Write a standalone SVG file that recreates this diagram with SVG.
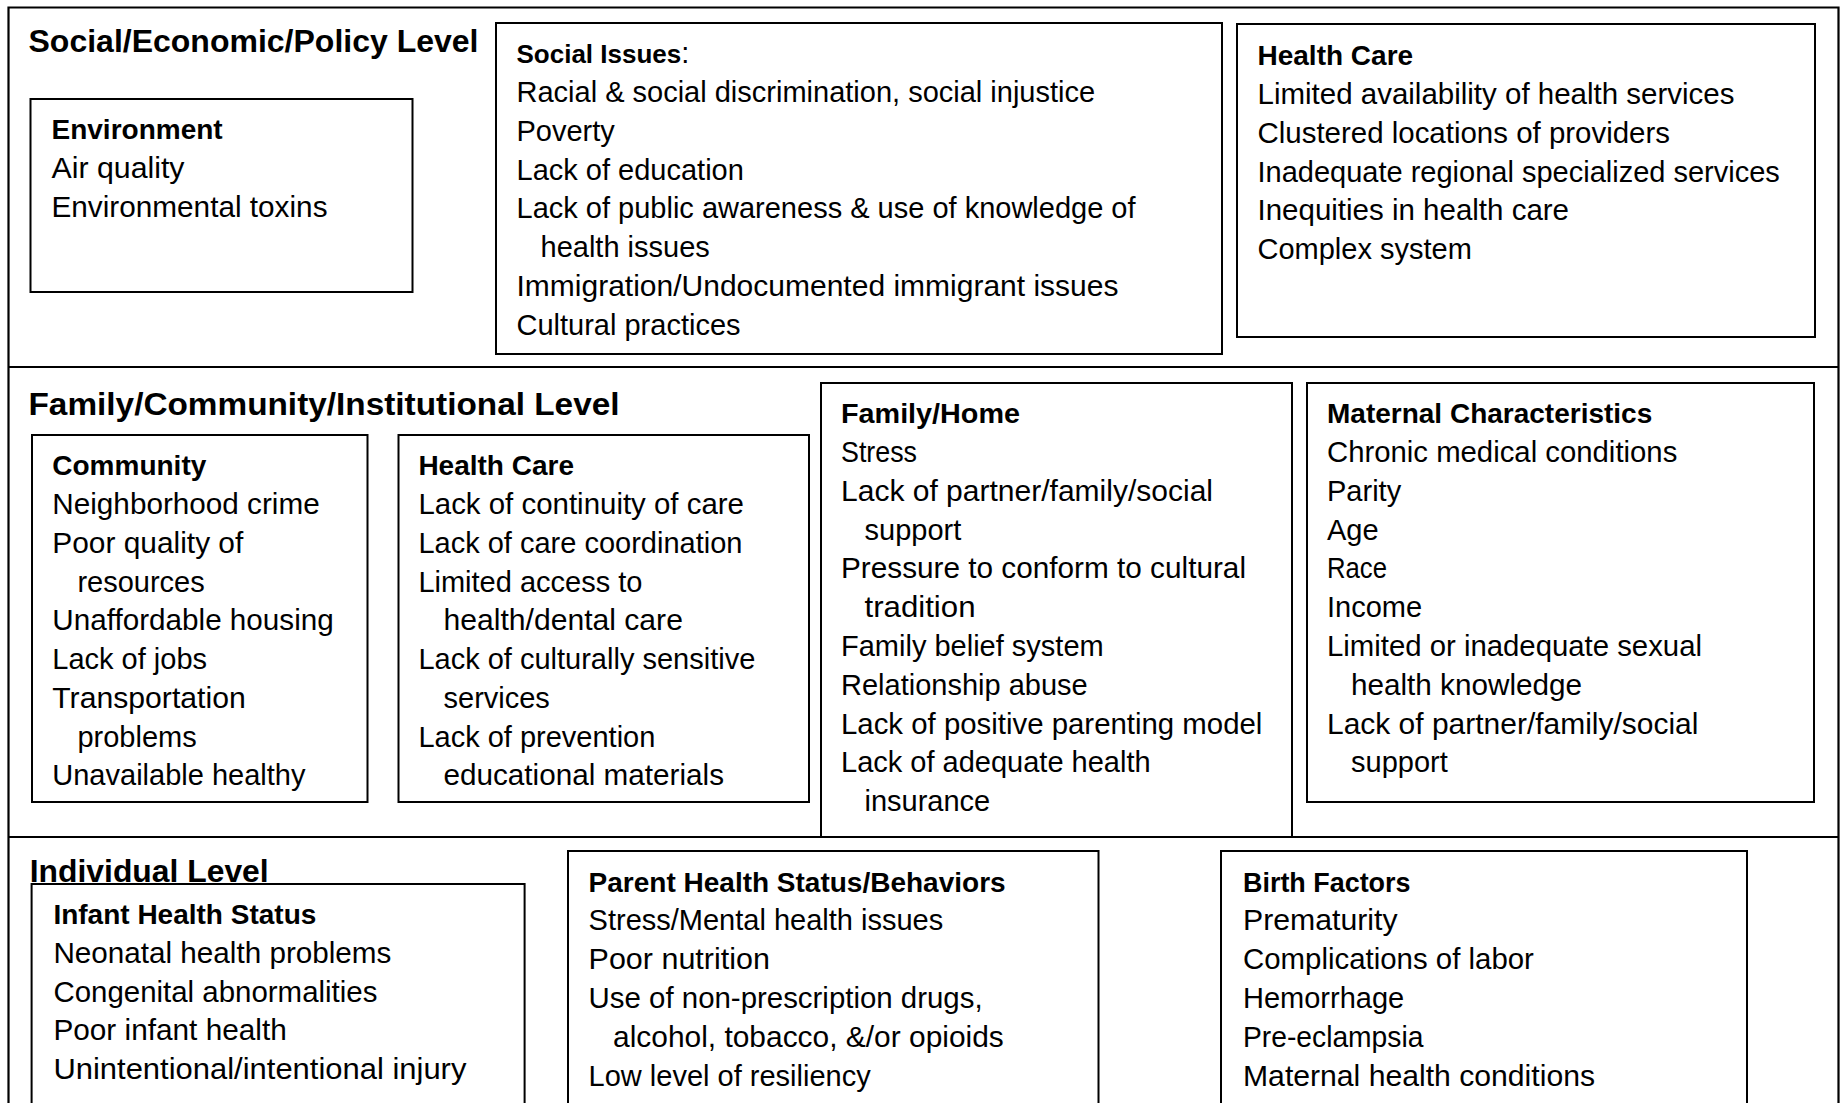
<svg xmlns="http://www.w3.org/2000/svg" width="1843" height="1103" viewBox="0 0 1843 1103">
<style>
.box{fill:none;stroke:#000;stroke-width:2}
.frame{fill:none;stroke:#000;stroke-width:2.2}
text{font-family:"Liberation Sans",Arial,sans-serif;fill:#000}
.t{font-size:29px}
.h{font-size:28px;font-weight:bold}
.lvl{font-size:32px;font-weight:bold}
</style>
<rect width="1843" height="1103" fill="#fff"/>
<g id="frame">
<path class="frame" d="M8.5,1110 V7.5 H1838.5 V1110"/>
<line class="frame" x1="8.5" y1="367" x2="1838.5" y2="367"/>
<line class="frame" x1="8.5" y1="837" x2="1838.5" y2="837"/>
</g>
<g id="connectors"></g>

<g id="level-social">
<text class="lvl" x="28.5" y="52" textLength="450" lengthAdjust="spacingAndGlyphs">Social/Economic/Policy Level</text>
</g>
<g id="environment">
<rect class="box" x="30.5" y="99" width="382" height="193"/>
<text class="h" x="51.5" y="139">Environment</text>
<text class="t" x="51.5" y="178" textLength="133" lengthAdjust="spacingAndGlyphs">Air quality</text>
<text class="t" x="51.5" y="217" textLength="276" lengthAdjust="spacingAndGlyphs">Environmental toxins</text>
</g>
<g id="social-issues">
<rect class="box" x="496" y="23" width="726" height="331"/>
<text x="516.5" y="63" font-size="29"><tspan font-weight="bold" font-size="26">Social Issues</tspan>:</text>
<text class="t" x="516.5" y="102">Racial &amp; social discrimination, social injustice</text>
<text class="t" x="516.5" y="141">Poverty</text>
<text class="t" x="516.5" y="180">Lack of education</text>
<text class="t" x="516.5" y="218">Lack of public awareness &amp; use of knowledge of</text>
<text class="t" x="540.5" y="257">health issues</text>
<text class="t" x="516.5" y="296" textLength="602" lengthAdjust="spacingAndGlyphs">Immigration/Undocumented immigrant issues</text>
<text class="t" x="516.5" y="335">Cultural practices</text>
</g>
<g id="health-care-policy">
<rect class="box" x="1237" y="24" width="578" height="313"/>
<text class="h" x="1257.5" y="65">Health Care</text>
<text class="t" x="1257.5" y="104" textLength="477" lengthAdjust="spacingAndGlyphs">Limited availability of health services</text>
<text class="t" x="1257.5" y="143" textLength="412.5" lengthAdjust="spacingAndGlyphs">Clustered locations of providers</text>
<text class="t" x="1257.5" y="182">Inadequate regional specialized services</text>
<text class="t" x="1257.5" y="220" textLength="311.5" lengthAdjust="spacingAndGlyphs">Inequities in health care</text>
<text class="t" x="1257.5" y="259">Complex system</text>
</g>

<g id="level-family">
<text class="lvl" x="28.5" y="415" textLength="591" lengthAdjust="spacingAndGlyphs">Family/Community/Institutional Level</text>
</g>
<g id="community">
<rect class="box" x="32" y="435" width="335.5" height="367"/>
<text class="h" x="52.3" y="475">Community</text>
<text class="t" x="52.3" y="514" textLength="267.4" lengthAdjust="spacingAndGlyphs">Neighborhood crime</text>
<text class="t" x="52.3" y="553" textLength="191" lengthAdjust="spacingAndGlyphs">Poor quality of</text>
<text class="t" x="77.4" y="592">resources</text>
<text class="t" x="52.3" y="630" textLength="281.5" lengthAdjust="spacingAndGlyphs">Unaffordable housing</text>
<text class="t" x="52.3" y="669">Lack of jobs</text>
<text class="t" x="52.3" y="708" textLength="193.4" lengthAdjust="spacingAndGlyphs">Transportation</text>
<text class="t" x="77.4" y="747">problems</text>
<text class="t" x="52.3" y="785">Unavailable healthy</text>
</g>
<g id="health-care-institutional">
<rect class="box" x="398.5" y="435" width="410.5" height="367"/>
<text class="h" x="418.4" y="475">Health Care</text>
<text class="t" x="418.4" y="514" textLength="325.6" lengthAdjust="spacingAndGlyphs">Lack of continuity of care</text>
<text class="t" x="418.4" y="553">Lack of care coordination</text>
<text class="t" x="418.4" y="592">Limited access to</text>
<text class="t" x="443.5" y="630" textLength="239.4" lengthAdjust="spacingAndGlyphs">health/dental care</text>
<text class="t" x="418.4" y="669">Lack of culturally sensitive</text>
<text class="t" x="443.5" y="708">services</text>
<text class="t" x="418.4" y="747">Lack of prevention</text>
<text class="t" x="443.5" y="785" textLength="280.5" lengthAdjust="spacingAndGlyphs">educational materials</text>
</g>
<g id="family-home">
<rect class="box" x="821" y="383" width="471" height="454"/>
<text class="h" x="841" y="423" textLength="179" lengthAdjust="spacingAndGlyphs">Family/Home</text>
<text class="t" x="841" y="462" textLength="76" lengthAdjust="spacingAndGlyphs">Stress</text>
<text class="t" x="841" y="501" textLength="372" lengthAdjust="spacingAndGlyphs">Lack of partner/family/social</text>
<text class="t" x="864.5" y="540">support</text>
<text class="t" x="841" y="578" textLength="405" lengthAdjust="spacingAndGlyphs">Pressure to conform to cultural</text>
<text class="t" x="864.5" y="617" textLength="111" lengthAdjust="spacingAndGlyphs">tradition</text>
<text class="t" x="841" y="656">Family belief system</text>
<text class="t" x="841" y="695">Relationship abuse</text>
<text class="t" x="841" y="734" textLength="421.4" lengthAdjust="spacingAndGlyphs">Lack of positive parenting model</text>
<text class="t" x="841" y="772">Lack of adequate health</text>
<text class="t" x="864.5" y="811">insurance</text>
</g>
<g id="maternal-characteristics">
<rect class="box" x="1307" y="383" width="507" height="419"/>
<text class="h" x="1327" y="423">Maternal Characteristics</text>
<text class="t" x="1327" y="462" textLength="350.3" lengthAdjust="spacingAndGlyphs">Chronic medical conditions</text>
<text class="t" x="1327" y="501">Parity</text>
<text class="t" x="1327" y="540">Age</text>
<text class="t" x="1327" y="578" textLength="60" lengthAdjust="spacingAndGlyphs">Race</text>
<text class="t" x="1327" y="617">Income</text>
<text class="t" x="1327" y="656" textLength="375" lengthAdjust="spacingAndGlyphs">Limited or inadequate sexual</text>
<text class="t" x="1351" y="695" textLength="231" lengthAdjust="spacingAndGlyphs">health knowledge</text>
<text class="t" x="1327" y="734" textLength="371.4" lengthAdjust="spacingAndGlyphs">Lack of partner/family/social</text>
<text class="t" x="1351" y="772">support</text>
</g>

<g id="infant-health">
<rect class="box" x="31.6" y="884" width="493" height="240"/>
<text class="h" x="53.4" y="924">Infant Health Status</text>
<text class="t" x="53.4" y="963" textLength="338" lengthAdjust="spacingAndGlyphs">Neonatal health problems</text>
<text class="t" x="53.4" y="1002" textLength="324" lengthAdjust="spacingAndGlyphs">Congenital abnormalities</text>
<text class="t" x="53.4" y="1040" textLength="233.4" lengthAdjust="spacingAndGlyphs">Poor infant health</text>
<text class="t" x="53.4" y="1079" textLength="413" lengthAdjust="spacingAndGlyphs">Unintentional/intentional injury</text>
</g>
<g id="level-individual">
<text class="lvl" x="29.7" y="882" textLength="239" lengthAdjust="spacingAndGlyphs">Individual Level</text>
</g>
<g id="parent-health">
<rect class="box" x="568" y="851" width="530.5" height="270"/>
<text class="h" x="588.6" y="892">Parent Health Status/Behaviors</text>
<text class="t" x="588.6" y="930">Stress/Mental health issues</text>
<text class="t" x="588.6" y="969" textLength="181.3" lengthAdjust="spacingAndGlyphs">Poor nutrition</text>
<text class="t" x="588.6" y="1008" textLength="394" lengthAdjust="spacingAndGlyphs">Use of non-prescription drugs,</text>
<text class="t" x="613" y="1047" textLength="390.8" lengthAdjust="spacingAndGlyphs">alcohol, tobacco, &amp;/or opioids</text>
<text class="t" x="588.6" y="1086">Low level of resiliency</text>
</g>
<g id="birth-factors">
<rect class="box" x="1221" y="851" width="526" height="270"/>
<text class="h" x="1243" y="892" textLength="167.5" lengthAdjust="spacingAndGlyphs">Birth Factors</text>
<text class="t" x="1243" y="930" textLength="154.5" lengthAdjust="spacingAndGlyphs">Prematurity</text>
<text class="t" x="1243" y="969" textLength="290.9" lengthAdjust="spacingAndGlyphs">Complications of labor</text>
<text class="t" x="1243" y="1008">Hemorrhage</text>
<text class="t" x="1243" y="1047" textLength="180.4" lengthAdjust="spacingAndGlyphs">Pre-eclampsia</text>
<text class="t" x="1243" y="1086" textLength="352" lengthAdjust="spacingAndGlyphs">Maternal health conditions</text>
</g>
</svg>
